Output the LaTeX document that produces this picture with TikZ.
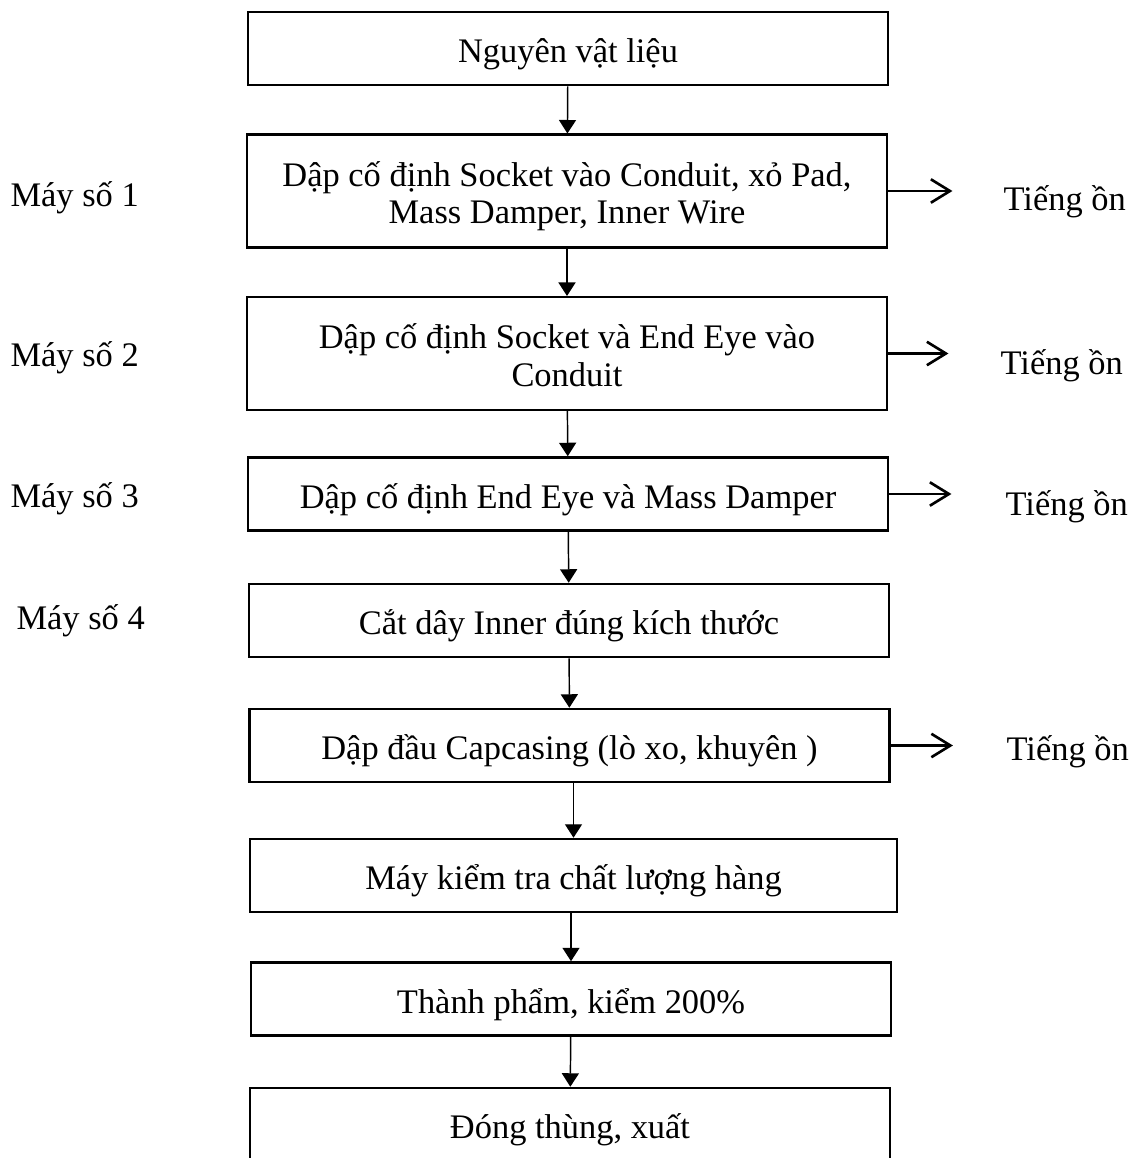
\documentclass[tikz,border=0pt]{standalone}
\usepackage{fontspec}
\setmainfont{Liberation Serif}
\usepackage{tikz}
\usetikzlibrary{arrows.meta,positioning}

\newcommand\topgap{\rule{0pt}{12pt}}
\newcommand\botgap{\rule[-2.6pt]{0pt}{2.6pt}}
\newcommand\boxfont{\fontsize{11.75pt}{12.8pt}\selectfont\lineskiplimit=-100pt\relax}

\begin{document}
\begin{tikzpicture}[x=0.012cm,y=-0.012cm,
    stepbox/.style={draw,line width=0.85pt,minimum width=7.68cm,minimum height=0.876cm,
      align=center,inner sep=2pt,text height=12.2pt,text depth=2.6pt,font=\boxfont},
    tallbox/.style={draw,line width=0.85pt,minimum width=7.68cm,minimum height=1.35cm,
      align=center,inner sep=2pt,font=\boxfont},
    flow/.style={line width=0.5pt,-{Triangle[length=4.6pt,width=5.8pt]}},
    noise/.style={line width=0.7pt,-{Straight Barb[length=6.5pt,width=8pt,line width=0.9pt]}},
    sidelabel/.style={font=\fontsize{11.75pt}{14pt}\selectfont,inner sep=0pt,anchor=base west}]

  % -- PAGE ------------------------------------------------------------
  \useasboundingbox (0,0) rectangle (1138,1158);
  \clip (0,0) rectangle (1138,1158);

  % -- PROCESS STEPS ---------------------------------------------------
  \node[stepbox] (raw)    at (568,48.5)   {Nguyên vật liệu};
  \node[tallbox] (press1) at (567,191)    {\topgap Dập cố định Socket vào Conduit, xỏ Pad,\\Mass Damper, Inner Wire\botgap};
  \node[tallbox] (press2) at (567,353.5)  {\topgap Dập cố định Socket và End Eye vào\\Conduit\botgap};
  \node[stepbox] (press3) at (568,494)    {Dập cố định End Eye và Mass Damper};
  \node[stepbox] (cut)    at (569,620.5)  {Cắt dây Inner đúng kích thước};
  \node[stepbox] (cap)    at (569.5,745.5) {Dập đầu Capcasing (lò xo, khuyên )};
  \node[stepbox,minimum width=7.76cm] (check) at (573.5,875.5) {Máy kiểm tra chất lượng hàng};
  \node[stepbox] (done)   at (571,999)    {Thành phẩm, kiểm 200\%};
  \node[stepbox] (pack)   at (570,1124.5) {Đóng thùng, xuất};

  % -- FLOW ARROWS -----------------------------------------------------
  \draw[flow] (raw)    -- (press1);
  \draw[flow] (press1) -- (press2);
  \draw[flow] (press2) -- (press3);
  \draw[flow] (press3) -- (cut);
  \draw[flow] (cut)    -- (cap);
  \draw[flow] (cap.south -| check) -- (check);
  \draw[flow] (check.south -| done) -- (done);
  \draw[flow] (done)   -- (pack);

  % -- MACHINES (left) -------------------------------------------------
  \node[sidelabel] (m1) at (10,207) {Máy số 1};
  \node[sidelabel] (m2) at (10,366) {Máy số 2};
  \node[sidelabel] (m3) at (10,507) {Máy số 3};
  \node[sidelabel] (m4) at (16,629) {Máy số 4};

  % -- NOISE (right) ---------------------------------------------------
  \node[sidelabel] (n1) at (1003,210) {Tiếng ồn};
  \node[sidelabel] (n2) at (1000,374) {Tiếng ồn};
  \node[sidelabel] (n3) at (1005,515) {Tiếng ồn};
  \node[sidelabel] (n5) at (1006,760) {Tiếng ồn};

  \draw[noise] (press1.east) -- ++(64,0);
  \draw[noise] (press2.east) -- ++(60,0);
  \draw[noise] (press3.east) -- ++(62,0);
  \draw[noise] (cap.east)    -- ++(62,0);

\end{tikzpicture}
\end{document}
